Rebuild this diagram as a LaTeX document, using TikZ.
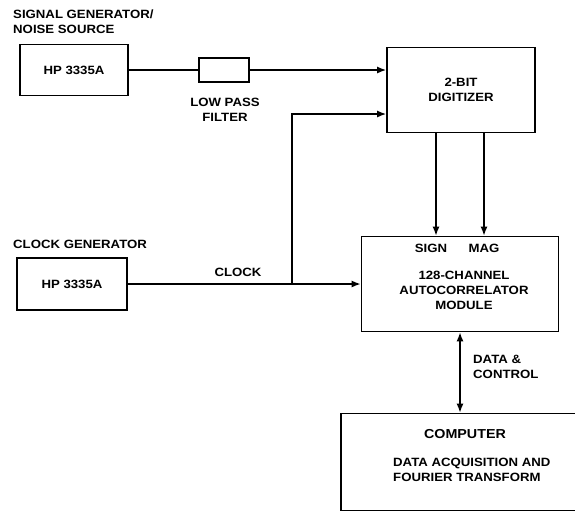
\documentclass[tikz,border=0pt]{standalone}
\usepackage{fontspec}
\setmainfont{Liberation Sans}[FakeStretch=1.1]
\usetikzlibrary{positioning,arrows.meta,calc}

\begin{document}
\begin{tikzpicture}[x=1pt,y=-1pt,
block/.style = {rectangle, draw, line width=1.6pt, align=center, inner sep=0pt,
                font=\bfseries\fontsize{12}{15}\selectfont},
lbl/.style = {inner sep=0pt, align=left, font=\bfseries\fontsize{12}{15}\selectfont},
wire/.style = {draw, line width=1.6pt},
line/.style = {draw, line width=1.6pt, -{Latex[length=9pt,width=7pt]}}]

\useasboundingbox (0,0) rectangle (575,515);

% sources
\node [lbl, anchor=north west] (sigtitle) at (13,10) {SIGNAL GENERATOR/\\NOISE SOURCE};
\node [block, minimum width=108pt, minimum height=51pt] (siggen) at (74,70) {HP 3335A};
\node [block, minimum width=50pt, minimum height=24pt] (filter) at (224,70) {};
\node [lbl, align=center] (filtertxt) at (225,110) {LOW PASS\\FILTER};

\node [lbl, anchor=north west] (clktitle) at (13,240) {CLOCK GENERATOR};
\node [block, minimum width=110pt, minimum height=52pt] (clkgen) at (72,284) {HP 3335A};
\node [lbl] (clktxt) at (238,272) {CLOCK};

% digitizer and correlator
\node [block, minimum width=148pt, minimum height=85pt] (digit) at (461,90) {2-BIT\\DIGITIZER};
\node [block, minimum width=197pt, minimum height=95pt] (autocorr) at (460,284) {};
\node [lbl] (sign) at (431,248) {SIGN};
\node [lbl] (mag) at (484,248) {MAG};
\node [lbl, align=center] (autotxt) at (464,290) {128-CHANNEL\\AUTOCORRELATOR\\MODULE};

% computer
\node [block, minimum width=236pt, minimum height=97pt] (computer) at (459,462) {};
\node [lbl, font=\bfseries\fontsize{13}{15}\selectfont] (comptitle) at (465,434) {COMPUTER};
\node [lbl, anchor=north west] (comptask) at (393,458) {DATA ACQUISITION AND\\FOURIER TRANSFORM};
\node [lbl, anchor=west] (datatxt) at (473,367) {DATA \&\\CONTROL};

\coordinate (tap) at (292,284);

\path [wire] (siggen) -- (filter);
\path [line] (filter) -- (filter -| digit.west);
\path [line] (clkgen) -- (autocorr);
\path [line] (tap) |- ($(digit.west)+(0,24)$);
\path [line] ([xshift=-25pt]digit.south) -- ([xshift=-25pt]digit.south |- autocorr.north);
\path [line] ([xshift=23pt]digit.south) -- ([xshift=23pt]digit.south |- autocorr.north);
\path [line, {Latex[length=9pt,width=7pt]}-{Latex[length=9pt,width=7pt]}] (autocorr.south) -- (autocorr.south |- computer.north);
\end{tikzpicture}
\end{document}
